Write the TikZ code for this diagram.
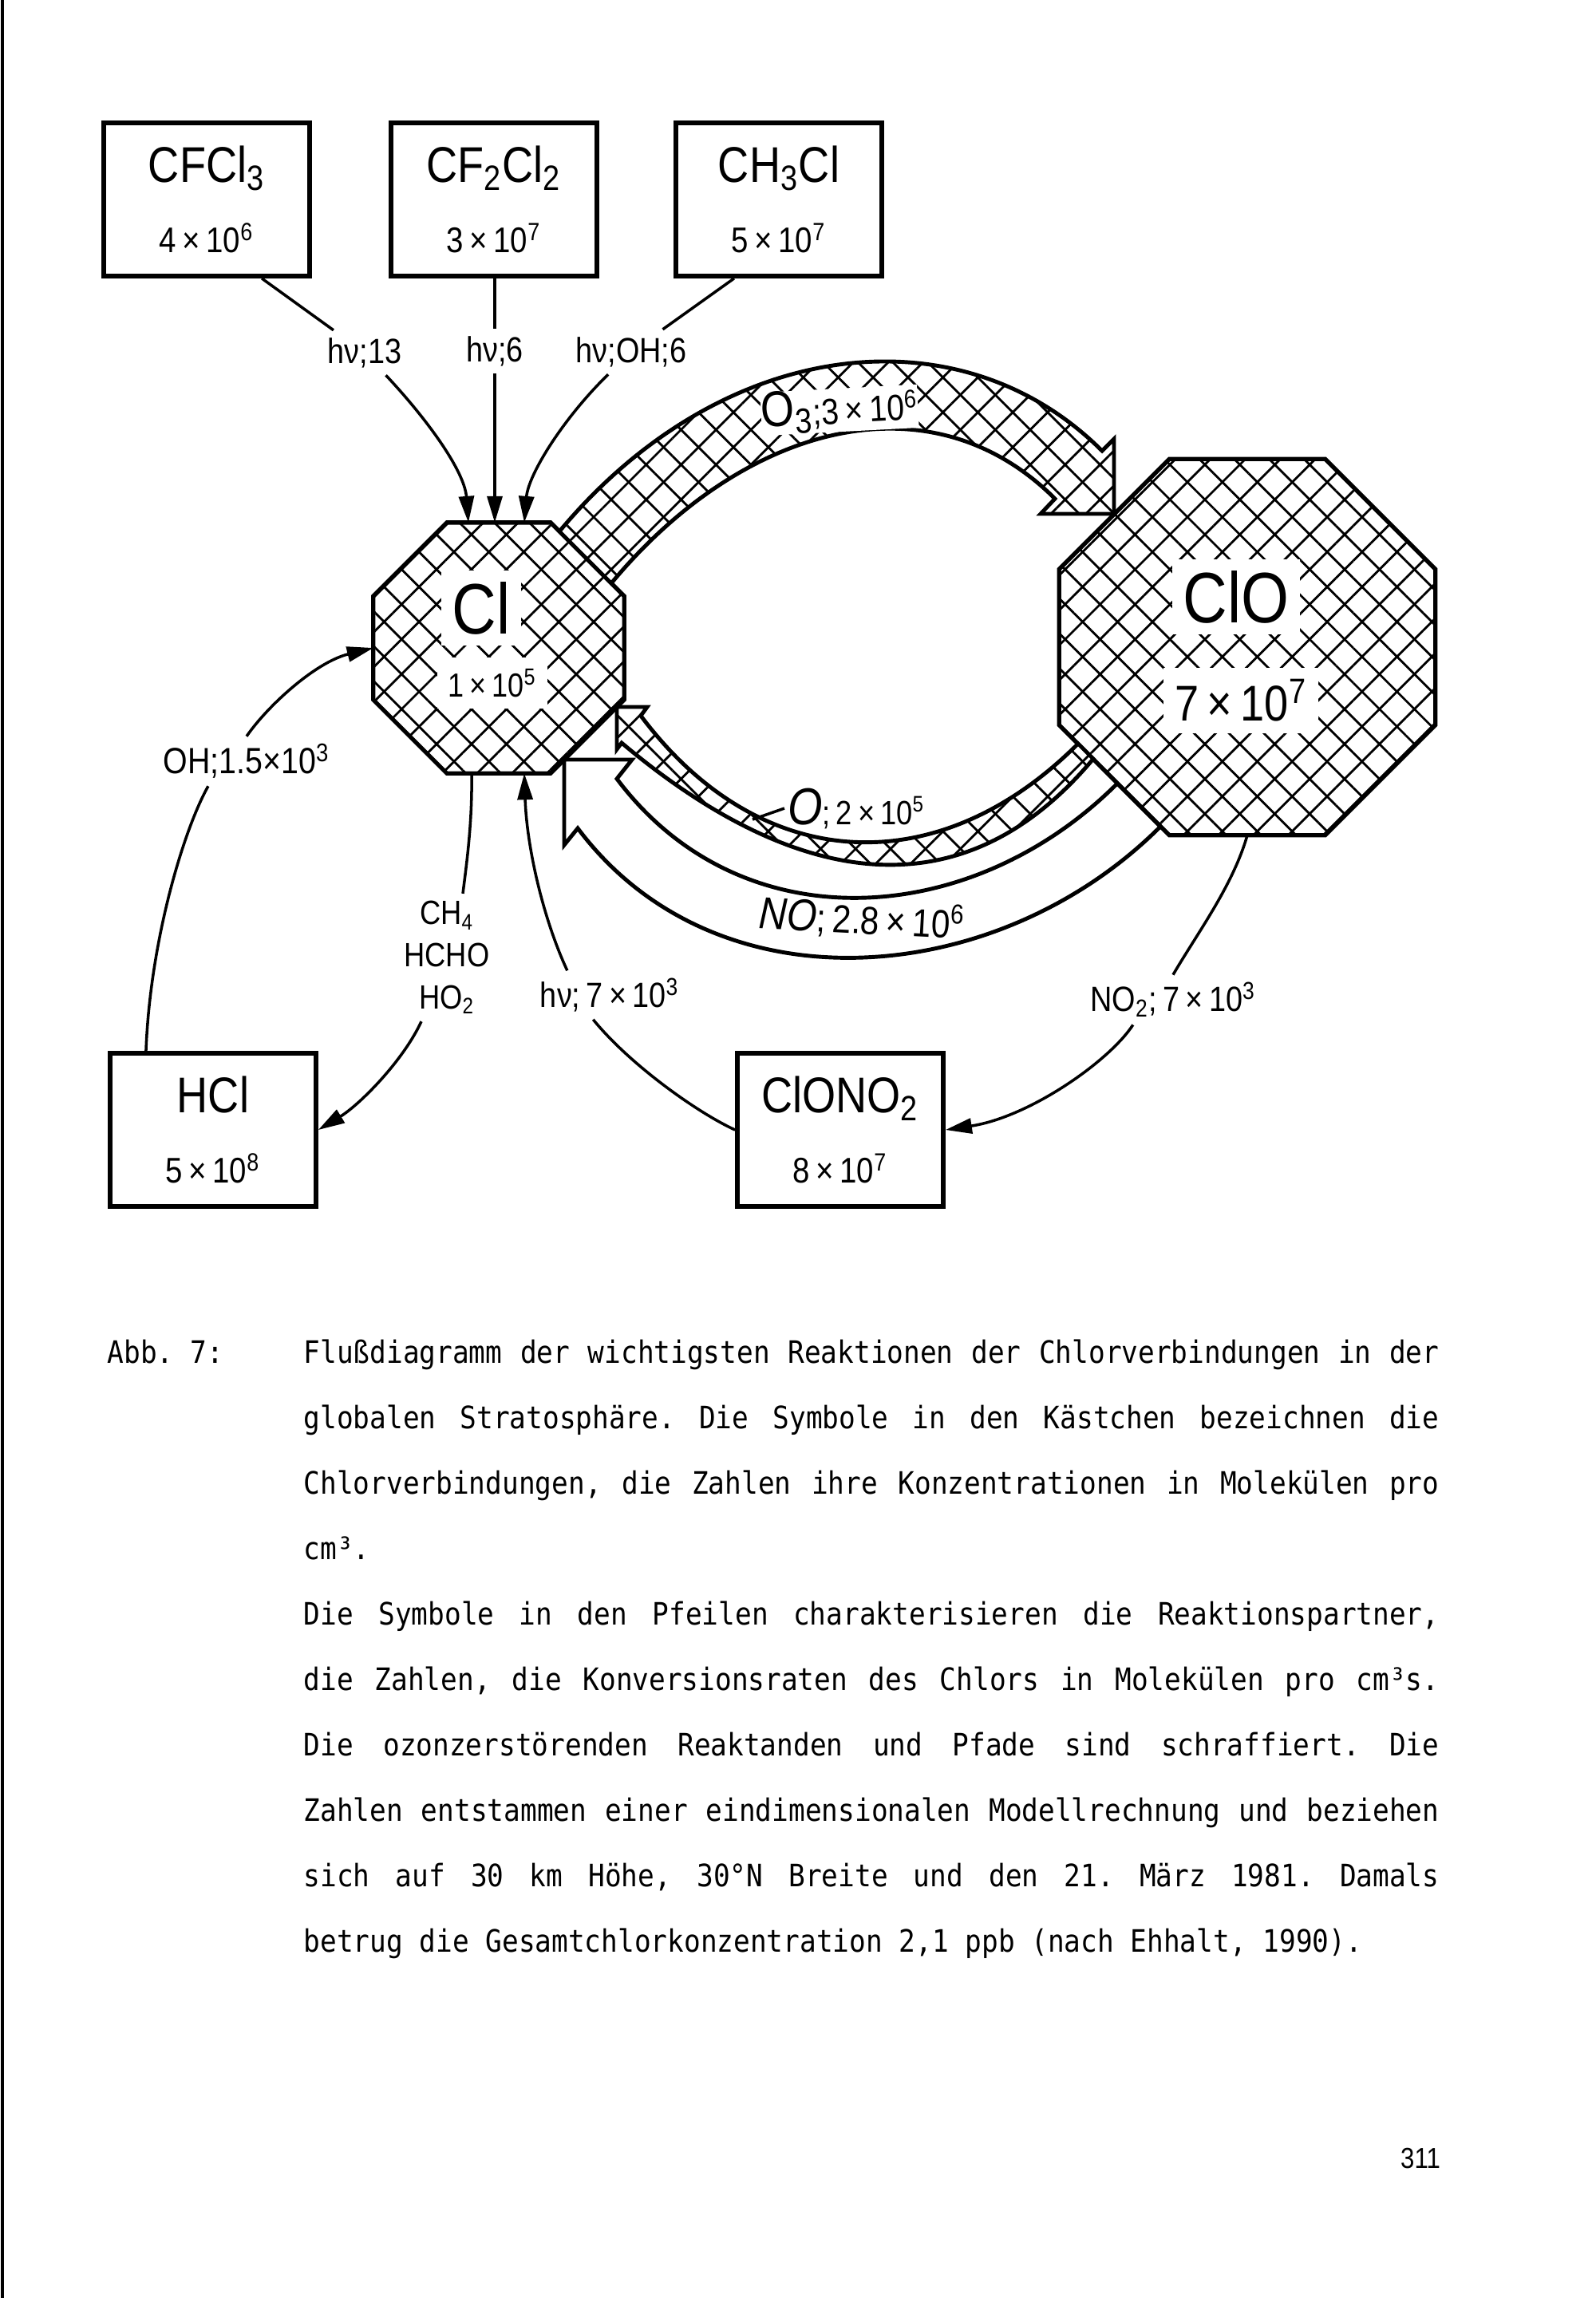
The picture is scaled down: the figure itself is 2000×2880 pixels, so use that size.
\documentclass[tikz,border=0pt]{standalone}
\usepackage{fontspec}
\setmainfont{Liberation Sans}[FakeStretch=0.86]
\newfontfamily\capfont{DejaVu Sans Mono}[FakeStretch=0.89]
\usetikzlibrary{arrows.meta,shapes.geometric,patterns.meta}
\newcommand\fsz[1]{\fontsize{#1}{#1}\selectfont}

\begin{document}
\begin{tikzpicture}[x=0.01cm,y=-0.01cm,
  box/.style={draw,line width=1.6pt,minimum width=2.58cm,minimum height=1.92cm,
    align=center,inner sep=0pt,font=\fontsize{12.7}{25}\selectfont},
  hatch/.style={fill=white,
    postaction={pattern={Lines[angle=45,distance=8.8pt,line width=0.8pt]}},
    postaction={pattern={Lines[angle=-45,distance=8.8pt,line width=0.8pt]}}},
  oct/.style={regular polygon,regular polygon sides=8,draw,line width=1.5pt,
    hatch,inner sep=0pt,outer sep=0pt},
  band/.style={draw,line width=1.4pt},
  whitebg/.style={fill=white,inner sep=4pt},
  lbl/.style={inner sep=2.5pt,font=\fontsize{12.5}{15}\selectfont},
  conn/.style={line width=1pt},
  arr/.style={conn,-{Triangle[length=0.33cm,width=0.19cm]}},
  captext/.style={anchor=base west,inner sep=0pt,
    font={\capfont\fontsize{11}{12}\selectfont\frenchspacing\spaceskip 0.535em plus 1em}}]
  \useasboundingbox (0,0) rectangle (2000,2880);
  \draw[line width=1.1pt] (3,0) -- (3,2880);

  % boxes
  \node[box] (cfcl3) at (259,250) {{\fsz{17.9}CFCl\textsubscript{3}}\\4\,×\,10\textsuperscript{6}};
  \node[box] (cf2cl2) at (619,250) {{\fsz{17.9}CF\textsubscript{2}Cl\textsubscript{2}}\\3\,×\,10\textsuperscript{7}};
  \node[box] (ch3cl) at (976,250) {{\fsz{17.9}CH\textsubscript{3}Cl}\\5\,×\,10\textsuperscript{7}};
  \node[box] (hcl) at (267,1416) {{\fsz{17.9}HCl}\\5\,×\,10\textsuperscript{8}};
  \node[box] (clono2) at (1053,1416) {{\fsz{17.9}ClONO\textsubscript{2}}\\8\,×\,10\textsuperscript{7}};

  % octagons
  \node[oct,minimum size=3.4cm] (cl) at (625,812) {};
  \node[oct,minimum size=5.1cm] (clo) at (1563,811) {};

  % thick arrows
  \coordinate (o3a) at ([shift={(76,-146)}]cl.center);
  \coordinate (o3d) at ([shift={(141,-81)}]cl.center);
  \coordinate (o3tip) at ([shift={(-167,-167)}]clo.center);
  \coordinate (o3b) at ([shift={(-15,-79)}]o3tip);
  \coordinate (oa) at ([shift={(-212,121)}]clo.center);
  \coordinate (ob) at ([shift={(-193,140)}]clo.center);
  \coordinate (na) at ([shift={(-163,171)}]clo.center);
  \coordinate (nb) at ([shift={(-109,225)}]clo.center);
  \coordinate (otip) at ([shift={(148,74)}]cl.center);
  \coordinate (ob2) at ([shift={(6,45)}]otip);
  \coordinate (ntip) at ([shift={(82,140)}]cl.center);
  \coordinate (nb2) at ([shift={(17,86)}]ntip);
  \draw[band,hatch] (o3a) .. controls +(205,-246) and +(-177,-177) .. (o3b) -- ++(15,-15)
    -- (o3tip) -- ++(-92,0) -- ++(18,-19) .. controls +(-156,-156) and +(166,-200) .. (o3d) -- cycle;
  \draw[band,hatch] (otip) -- ++(38,0) -- ++(-8,11) .. controls +(150,200) and +(-175,175) .. (oa)
    -- (ob) .. controls +(-180,215) and +(190,160) .. (ob2) -- ++(-6,8) -- cycle;
  \draw[band,fill=white] (ntip) -- ++(85,0) -- ++(-19,24) .. controls +(156,208) and +(-182,182) .. (na)
    -- (nb) .. controls +(-203,203) and +(174,232) .. (nb2) -- ++(-17,21) -- cycle;

  \node[whitebg,font=\fsz{25.5}] (clname) at (603,762) {Cl};
  \node[whitebg,font=\fsz{11.9}] (clval) at (617,856) {1\,×\,10\textsuperscript{5}};
  \node[whitebg,font=\fsz{25.5}] (cloname) at (1549,748) {ClO};
  \node[whitebg,font=\fsz{17.9}] (cloval) at (1555,878) {7\,×\,10\textsuperscript{7}};
  \node[whitebg,inner sep=0pt,rotate=3,font=\fsz{13}] (lo3) at (1052,514)
    {{\fsz{17.9}O\textsubscript{3}};3\,×\,10\textsuperscript{6}};
  \node[inner sep=1pt,font=\fsz{12}] (lo) at (1073,1013) {{\fsz{18.5}\itshape O};\,2\,×\,10\textsuperscript{5}};
  \coordinate (otick) at (943,1027);
  \draw[conn] (lo.west) -- (otick);
  \node[rotate=-3,font=\fsz{14}] (lno) at (1080,1152) {{\fsz{16}\itshape NO};\,2.8\,×\,10\textsuperscript{6}};

  % labels
  \node[lbl] (l13) at (457,442) {hν;13};
  \node[lbl] (l6) at (620,440) {hν;6};
  \node[lbl] (loh6) at (791,441) {hν;OH;6};
  \node[lbl,font=\fsz{13}] (loh) at (309,954) {OH;1.5×10\textsuperscript{3}};
  \node[lbl,align=center,font=\fontsize{12}{15}\selectfont] (lch) at (560,1200) {CH\textsubscript{4}\\HCHO\\HO\textsubscript{2}};
  \node[lbl] (l7e3) at (764,1247) {hν;\,7\,×\,10\textsuperscript{3}};
  \node[lbl] (lno2) at (1470,1253) {NO\textsubscript{2};\,7\,×\,10\textsuperscript{3}};

  % connectors
  \draw[conn] ([xshift=0.69cm]cfcl3.south) -- (l13);
  \draw[arr] (l13) .. controls (535,525) and (582,590) .. ([xshift=-0.38cm]cl.north);
  \draw[conn] (cf2cl2.south -| l6) -- (l6);
  \draw[arr] (l6) -- (l6 |- cl.north);
  \draw[conn] ([xshift=-0.56cm]ch3cl.south) -- (loh6);
  \draw[arr] (loh6) .. controls (705,525) and (662,595) .. ([xshift=0.32cm]cl.north);
  \draw[conn] ([xshift=-0.84cm]hcl.north) .. controls (188,1180) and (230,1040) .. (loh.213);
  \draw[arr] (loh.north) .. controls (335,885) and (395,830) .. (cl.west);
  \draw[conn] ([xshift=-0.34cm]cl.south) .. controls (592,1030) and (585,1080) .. ([xshift=0.2cm]lch.north);
  \draw[arr] ([xshift=-0.32cm]lch.south) .. controls (505,1330) and (450,1385) .. (hcl.east);
  \draw[conn] (clono2.west) .. controls (875,1395) and (790,1335) .. (l7e3.236);
  \draw[arr] (l7e3.150) .. controls (680,1150) and (660,1060) .. ([xshift=0.32cm]cl.south);
  \draw[conn] (clo.south) .. controls (1545,1110) and (1500,1170) .. (lno2.north);
  \draw[arr] (lno2.212) .. controls (1390,1330) and (1290,1400) .. (clono2.east);

  % caption
  \node[captext] (abb) at (134,1708) {Abb. 7:};
  \foreach \row/\txt in {
    0/{Flußdiagramm der wichtigsten Reaktionen der Chlorverbindungen in der},
    1/{globalen Stratosphäre. Die Symbole in den Kästchen bezeichnen die},
    2/{Chlorverbindungen, die Zahlen ihre Konzentrationen in Molekülen pro},
    3/{cm³.\hfill},
    4/{Die Symbole in den Pfeilen charakterisieren die Reaktionspartner,},
    5/{die Zahlen, die Konversionsraten des Chlors in Molekülen pro cm³s.},
    6/{Die ozonzerstörenden Reaktanden und Pfade sind schraffiert. Die},
    7/{Zahlen entstammen einer eindimensionalen Modellrechnung und beziehen},
    8/{sich auf 30 km Höhe, 30°N Breite und den 21. März 1981. Damals},
    9/{betrug die Gesamtchlorkonzentration 2,1 ppb (nach Ehhalt, 1990).\hfill}}
    \node[captext] (cap\row) at (380,{1708+82*\row}) {\makebox[14.22cm][s]{\txt}};
  \node[font=\fsz{10.3}] (pnum) at (1780,2705) {311};
\end{tikzpicture}
\end{document}
